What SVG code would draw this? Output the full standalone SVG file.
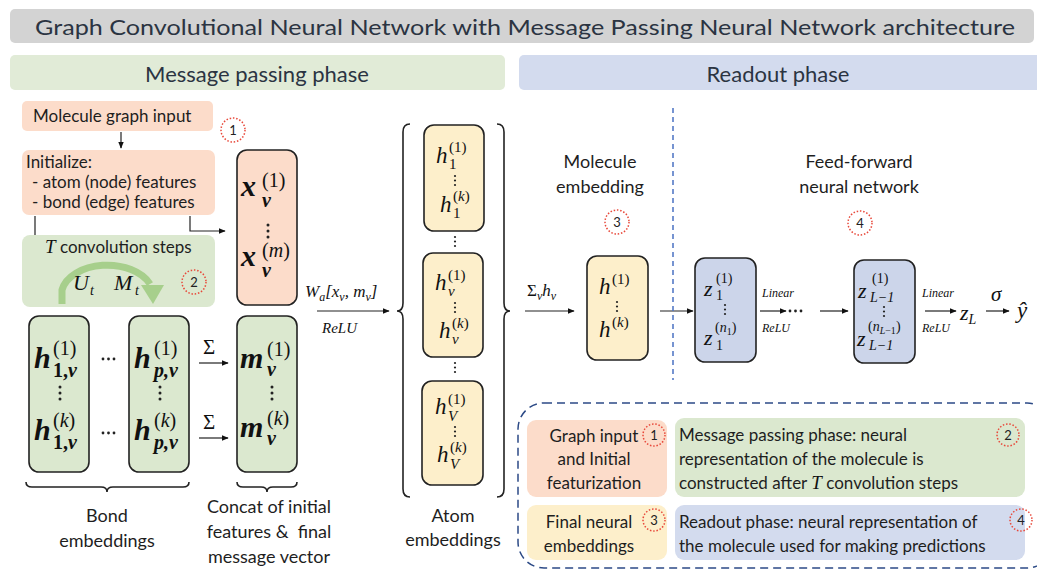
<svg xmlns="http://www.w3.org/2000/svg" width="1037" height="570" viewBox="0 0 1037 570">
  <defs>
    <style>
      .sans { font-family: Lato, "Open Sans", "Liberation Sans", sans-serif; fill: #1e1e1e; }
      .hdr { font-family: Lato, "Open Sans", "Liberation Sans", sans-serif; fill: #2b3442; font-size: 22px; }
      .math { font-family: "Liberation Serif", "DejaVu Serif", serif; font-style: italic; fill: #111; }
      .mb { font-weight: bold; }
      .up { font-family: "Liberation Serif", "DejaVu Serif", serif; fill: #111; }
      .box { stroke: #222; stroke-width: 1.6; }
      .peach { fill: #fcdcca; }
      .green { fill: #dbe8cf; }
      .yellow { fill: #fdefcb; }
      .blue { fill: #ccd5ea; }
      .line { stroke: #222; stroke-width: 1.2; fill: none; }
      .brace { stroke: #222; stroke-width: 1.6; fill: none; }
      .badge { fill: none; stroke: #e8483a; stroke-width: 1.5; stroke-dasharray: 1.5 1.8; }
      .badgetxt { font-family: Lato, "Open Sans", "Liberation Sans", sans-serif; font-size: 13px; fill: #222; text-anchor: middle; }
      .dot { fill: #222; }
    </style>
    <marker id="arr" viewBox="0 0 10 10" refX="9" refY="5" markerWidth="7" markerHeight="7" orient="auto" markerUnits="userSpaceOnUse">
      <path d="M0,1 L10,5 L0,9 z" fill="#111"/>
    </marker>
    <!-- vertical ellipsis used inside vectors -->
    <g id="vdots">
      <circle cx="0" cy="0" r="1.5" class="dot"/>
      <circle cx="0" cy="6" r="1.5" class="dot"/>
      <circle cx="0" cy="12" r="1.5" class="dot"/>
    </g>
    <g id="vdotsS">
      <circle cx="0" cy="0" r="1.1" class="dot"/>
      <circle cx="0" cy="4.5" r="1.1" class="dot"/>
      <circle cx="0" cy="9" r="1.1" class="dot"/>
    </g>
    <g id="hdots">
      <circle cx="0" cy="0" r="1.4" class="dot"/>
      <circle cx="5.5" cy="0" r="1.4" class="dot"/>
      <circle cx="11" cy="0" r="1.4" class="dot"/>
    </g>
  </defs>

  <rect width="1037" height="570" fill="#ffffff"/>

  <!-- headers -->
  <g id="title">
    <rect x="10" y="9" width="1024" height="34" rx="5" fill="#d3d3d3"/>
    <text class="hdr" x="525" y="35" text-anchor="middle" textLength="980" lengthAdjust="spacingAndGlyphs">Graph Convolutional Neural Network with Message Passing Neural Network architecture</text>
  </g>
  <g id="mp-banner">
    <rect x="10" y="55" width="495" height="35" rx="5" fill="#e1ebd7"/>
    <text class="hdr" x="257" y="82" text-anchor="middle">Message passing phase</text>
  </g>
  <g id="ro-banner">
    <rect x="519" y="55" width="530" height="35" rx="5" fill="#d3dbee"/>
    <text class="hdr" x="778" y="82" text-anchor="middle">Readout phase</text>
  </g>

  <!-- connectors -->
  <g id="connectors">
    <line class="line" x1="121" y1="132" x2="121" y2="148" marker-end="url(#arr)"/>
    <polyline class="line" points="190,216 190,231 225,231" marker-end="url(#arr)"/>
    <polyline class="line" points="35,216 35,300 52,300" marker-end="url(#arr)"/>
    <line class="line" x1="199" y1="363" x2="228" y2="363" marker-end="url(#arr)"/>
    <line class="line" x1="199" y1="438" x2="228" y2="438" marker-end="url(#arr)"/>
    <line class="line" x1="317" y1="311" x2="389" y2="311" marker-end="url(#arr)"/>
    <line class="line" x1="525" y1="311" x2="574" y2="311" marker-end="url(#arr)"/>
    <line class="line" x1="660" y1="311" x2="693" y2="311" marker-end="url(#arr)"/>
    <line class="line" x1="760" y1="311" x2="786" y2="311" marker-end="url(#arr)"/>
    <line class="line" x1="820" y1="311" x2="848" y2="311" marker-end="url(#arr)"/>
    <line class="line" x1="925" y1="311" x2="956" y2="311" marker-end="url(#arr)"/>
    <line class="line" x1="986" y1="311" x2="1009" y2="311" marker-end="url(#arr)"/>
  </g>

  <!-- readout separator -->
  <line x1="673" y1="108" x2="673" y2="380" stroke="#4a72c2" stroke-width="1.5" stroke-dasharray="5 4"/>

  <!-- graph input -->
  <g id="node-input">
    <rect class="peach" x="22" y="101" width="191" height="30" rx="5"/>
    <text class="sans" x="33" y="122" font-size="17">Molecule graph input</text>
    <circle class="badge" cx="233" cy="130" r="12"/>
    <text class="badgetxt" x="233" y="135">1</text>
  </g>

  <g id="node-init">
    <rect class="peach" x="22" y="150" width="193" height="65" rx="7"/>
    <text class="sans" x="26" y="168" font-size="17">Initialize:</text>
    <text class="sans" x="32" y="188" font-size="17">- atom (node) features</text>
    <text class="sans" x="32" y="208" font-size="17">- bond (edge) features</text>
  </g>

  <g id="node-conv">
    <rect class="green" x="22" y="235" width="193" height="72" rx="8"/>
    <text class="sans" x="45" y="253" font-size="17"><tspan class="math" font-size="19">T</tspan> convolution steps</text>
    <path d="M62,304 L62,290 A46,30 0 0 1 150,284" fill="none" stroke="#a7cf8c" stroke-width="7"/>
    <path d="M141,285 L164,285 L153,304 z" fill="#a7cf8c"/>
    <text class="math" x="73" y="290" font-size="22">U</text>
    <text class="math" x="90" y="295" font-size="14">t</text>
    <text class="math" x="114" y="290" font-size="22">M</text>
    <text class="math" x="135" y="295" font-size="14">t</text>
    <circle class="badge" cx="194" cy="282" r="12"/>
    <text class="badgetxt" x="194" y="287">2</text>
  </g>

  <!-- initial feature vector x_v -->
  <g id="node-xv">
    <rect class="box peach" x="237" y="150" width="60" height="155" rx="10"/>
    <text class="math mb" x="241" y="196" font-size="30">x</text>
    <text class="up" x="262" y="187" font-size="20">(1)</text>
    <text class="math mb" x="262" y="207" font-size="20">v</text>
    <use href="#vdots" x="268" y="225"/>
    <text class="math mb" x="241" y="266" font-size="30">x</text>
    <text class="up" x="262" y="257" font-size="20">(<tspan class="math">m</tspan>)</text>
    <text class="math mb" x="262" y="277" font-size="20">v</text>
  </g>

  <!-- bond embeddings -->
  <g id="node-bond1">
    <rect class="box green" x="29" y="316" width="60" height="156" rx="10"/>
    <text class="math mb" x="34" y="368" font-size="30">h</text>
    <text class="up" x="53" y="355" font-size="20">(1)</text>
    <text class="up mb" x="53" y="377" font-size="20">1,<tspan class="math">v</tspan></text>
    <use href="#vdots" x="60" y="387"/>
    <text class="math mb" x="34" y="440" font-size="30">h</text>
    <text class="up" x="53" y="427" font-size="20">(<tspan class="math">k</tspan>)</text>
    <text class="up mb" x="53" y="449" font-size="20">1,<tspan class="math">v</tspan></text>
  </g>
  <use href="#hdots" x="103" y="359"/>
  <use href="#hdots" x="103" y="433"/>
  <g id="node-bondp">
    <rect class="box green" x="129" y="316" width="60" height="156" rx="10"/>
    <text class="math mb" x="134" y="368" font-size="30">h</text>
    <text class="up" x="154" y="355" font-size="20">(1)</text>
    <text class="math mb" x="154" y="377" font-size="20">p,v</text>
    <use href="#vdots" x="160" y="387"/>
    <text class="math mb" x="134" y="440" font-size="30">h</text>
    <text class="up" x="154" y="427" font-size="20">(<tspan class="math">k</tspan>)</text>
    <text class="math mb" x="154" y="449" font-size="20">p,v</text>
  </g>

  <text class="up" x="203" y="354" font-size="21">Σ</text>
  <text class="up" x="203" y="429" font-size="21">Σ</text>

  <!-- message vector m_v -->
  <g id="node-mv">
    <rect class="box green" x="237" y="316" width="60" height="156" rx="10"/>
    <text class="math mb" x="240" y="368" font-size="30">m</text>
    <text class="up" x="267" y="356" font-size="20">(1)</text>
    <text class="math mb" x="267" y="376" font-size="20">v</text>
    <use href="#vdots" x="272" y="387"/>
    <text class="math mb" x="240" y="437" font-size="30">m</text>
    <text class="up" x="267" y="425" font-size="20">(<tspan class="math">k</tspan>)</text>
    <text class="math mb" x="267" y="445" font-size="20">v</text>
  </g>

  <!-- braces under the left columns -->
  <path class="brace" d="M26,482 Q26,487 32,487 L101,487 Q107,487 107,492 Q107,487 113,487 L183,487 Q189,487 189,482"/>
  <path class="brace" d="M237,482 Q237,487 243,487 L261,487 Q267,487 267,492 Q267,487 273,487 L291,487 Q297,487 297,482"/>
  <text class="sans" x="107" y="522" font-size="18" text-anchor="middle">Bond</text>
  <text class="sans" x="107" y="547" font-size="18" text-anchor="middle">embeddings</text>
  <text class="sans" x="269" y="513" font-size="18" text-anchor="middle">Concat of initial</text>
  <text class="sans" x="269" y="538" font-size="18" text-anchor="middle" xml:space="preserve">features &amp;  final</text>
  <text class="sans" x="269" y="563" font-size="18" text-anchor="middle">message vector</text>

  <!-- update label -->
  <text class="math" x="305" y="297" font-size="17">W<tspan font-size="12" dy="4">a</tspan><tspan dy="-4" class="up">[</tspan>x<tspan font-size="12" dy="4">v</tspan><tspan dy="-4" class="up">, </tspan>m<tspan font-size="12" dy="4">v</tspan><tspan dy="-4" class="up">]</tspan></text>
  <text class="math" x="322" y="333" font-size="15">ReLU</text>

  <!-- atom embeddings -->
  <path class="brace" d="M410,124 Q403,124 403,132 L403,303 Q403,311 397,311 Q403,311 403,319 L403,489 Q403,497 410,497"/>
  <path class="brace" d="M497,124 Q504,124 504,132 L504,303 Q504,311 510,311 Q504,311 504,319 L504,489 Q504,497 497,497"/>

  <g id="node-atom1">
    <rect class="box yellow" x="424" y="125" width="60" height="106" rx="10"/>
    <text class="math" x="436" y="163" font-size="23">h</text>
    <text class="up" x="449" y="152" font-size="15">(1)</text>
    <text class="up" x="449" y="169" font-size="15">1</text>
    <use href="#vdotsS" x="455" y="176"/>
    <text class="math" x="440" y="212" font-size="23">h</text>
    <text class="up" x="453" y="201" font-size="15">(<tspan class="math">k</tspan>)</text>
    <text class="up" x="453" y="218" font-size="15">1</text>
  </g>
  <use href="#vdotsS" x="455" y="237"/>
  <g id="node-atomv">
    <rect class="box yellow" x="423" y="253" width="60" height="104" rx="10"/>
    <text class="math" x="435" y="290" font-size="23">h</text>
    <text class="up" x="448" y="280" font-size="15">(1)</text>
    <text class="math" x="448" y="296" font-size="15">v</text>
    <use href="#vdotsS" x="455" y="303"/>
    <text class="math" x="439" y="338" font-size="23">h</text>
    <text class="up" x="452" y="328" font-size="15">(<tspan class="math">k</tspan>)</text>
    <text class="math" x="452" y="344" font-size="15">v</text>
  </g>
  <use href="#vdotsS" x="455" y="363"/>
  <g id="node-atomV">
    <rect class="box yellow" x="422" y="381" width="61" height="104" rx="10"/>
    <text class="math" x="435" y="414" font-size="23">h</text>
    <text class="up" x="448" y="404" font-size="15">(1)</text>
    <text class="math" x="448" y="421" font-size="15">V</text>
    <use href="#vdotsS" x="455" y="427"/>
    <text class="math" x="437" y="462" font-size="23">h</text>
    <text class="up" x="450" y="452" font-size="15">(<tspan class="math">k</tspan>)</text>
    <text class="math" x="450" y="469" font-size="15">V</text>
  </g>
  <text class="sans" x="453" y="522" font-size="18" text-anchor="middle">Atom</text>
  <text class="sans" x="453" y="546" font-size="18" text-anchor="middle">embeddings</text>

  <!-- readout -->
  <text class="up" x="527" y="296" font-size="17">Σ<tspan class="math" font-size="12" dy="4">v</tspan><tspan class="math" dy="-4">h</tspan><tspan class="math" font-size="12" dy="4">v</tspan></text>

  <text class="sans" x="600" y="168" font-size="18" text-anchor="middle">Molecule</text>
  <text class="sans" x="600" y="193" font-size="18" text-anchor="middle">embedding</text>
  <circle class="badge" cx="617" cy="222" r="12"/>
  <text class="badgetxt" x="617" y="227">3</text>

  <g id="node-mol">
    <rect class="box yellow" x="587" y="256" width="61" height="104" rx="10"/>
    <text class="math" x="599" y="294" font-size="23">h</text>
    <text class="up" x="612" y="284" font-size="15">(1)</text>
    <use href="#vdotsS" x="617" y="302"/>
    <text class="math" x="599" y="337" font-size="23">h</text>
    <text class="up" x="612" y="327" font-size="15">(<tspan class="math">k</tspan>)</text>
  </g>

  <text class="sans" x="859" y="168" font-size="18" text-anchor="middle">Feed-forward</text>
  <text class="sans" x="859" y="193" font-size="18" text-anchor="middle">neural network</text>
  <circle class="badge" cx="860" cy="223" r="12"/>
  <text class="badgetxt" x="860" y="228">4</text>

  <g id="node-z1">
    <rect class="box blue" x="695" y="258" width="61" height="104" rx="10"/>
    <text class="math" x="704" y="296" font-size="22">z</text>
    <text class="up" x="716" y="283" font-size="14">(1)</text>
    <text class="up" x="716" y="300" font-size="14">1</text>
    <use href="#vdotsS" x="725" y="305"/>
    <text class="math" x="704" y="345" font-size="22">z</text>
    <text class="up" x="715" y="332" font-size="14">(<tspan class="math">n</tspan><tspan font-size="10" dy="3">1</tspan><tspan dy="-3">)</tspan></text>
    <text class="up" x="716" y="350" font-size="14">1</text>
  </g>
  <text class="math" x="762" y="297" font-size="12">Linear</text>
  <text class="math" x="762" y="332" font-size="12">ReLU</text>
  <use href="#hdots" x="790" y="311"/>

  <g id="node-zL1">
    <rect class="box blue" x="854" y="260" width="61" height="103" rx="10"/>
    <text class="math" x="858" y="298" font-size="22">z</text>
    <text class="up" x="872" y="283" font-size="14">(1)</text>
    <text class="math" x="870" y="302" font-size="14">L<tspan class="up">−1</tspan></text>
    <use href="#vdotsS" x="884" y="307"/>
    <text class="math" x="857" y="346" font-size="22">z</text>
    <text class="up" x="868" y="331" font-size="14">(<tspan class="math">n</tspan><tspan class="math" font-size="10" dy="3">L</tspan><tspan font-size="10">−1</tspan><tspan dy="-3">)</tspan></text>
    <text class="math" x="869" y="350" font-size="14">L<tspan class="up">−1</tspan></text>
  </g>
  <text class="math" x="922" y="297" font-size="12">Linear</text>
  <text class="math" x="922" y="332" font-size="12">ReLU</text>
  <text class="math" x="960" y="320" font-size="22">z<tspan font-size="14" dy="4">L</tspan></text>
  <text class="math" x="991" y="301" font-size="21">σ</text>
  <text class="math" x="1017" y="318" font-size="23">ŷ</text>

  <!-- legend -->
  <g id="legend">
    <rect x="518" y="403" width="535" height="165" rx="26" fill="none" stroke="#2c4a86" stroke-width="1.5" stroke-dasharray="8 5"/>
    <rect class="peach" x="527" y="420" width="140" height="77" rx="9"/>
    <text class="sans" x="594" y="442" font-size="17" text-anchor="middle">Graph input</text>
    <text class="sans" x="594" y="465" font-size="17" text-anchor="middle">and Initial</text>
    <text class="sans" x="594" y="489" font-size="17" text-anchor="middle">featurization</text>
    <circle class="badge" cx="654" cy="435" r="11"/>
    <text class="badgetxt" x="654" y="440">1</text>

    <rect class="green" x="675" y="418" width="350" height="79" rx="9"/>
    <text class="sans" x="679" y="441" font-size="17">Message passing phase: neural</text>
    <text class="sans" x="679" y="465" font-size="17">representation of the molecule is</text>
    <text class="sans" x="679" y="489" font-size="17">constructed after <tspan class="math" font-size="19">T</tspan> convolution steps</text>
    <circle class="badge" cx="1008" cy="435" r="11"/>
    <text class="badgetxt" x="1008" y="440">2</text>

    <rect class="yellow" x="527" y="505" width="140" height="55" rx="9"/>
    <text class="sans" x="589" y="528" font-size="17" text-anchor="middle">Final neural</text>
    <text class="sans" x="589" y="552" font-size="17" text-anchor="middle">embeddings</text>
    <circle class="badge" cx="654" cy="520" r="11"/>
    <text class="badgetxt" x="654" y="525">3</text>

    <rect x="675" y="505" width="350" height="55" rx="9" fill="#d3dbee"/>
    <text class="sans" x="679" y="528" font-size="17">Readout phase: neural representation of</text>
    <text class="sans" x="679" y="552" font-size="17">the molecule used for making predictions</text>
    <circle class="badge" cx="1021" cy="520" r="11"/>
    <text class="badgetxt" x="1021" y="525">4</text>
  </g>
</svg>
